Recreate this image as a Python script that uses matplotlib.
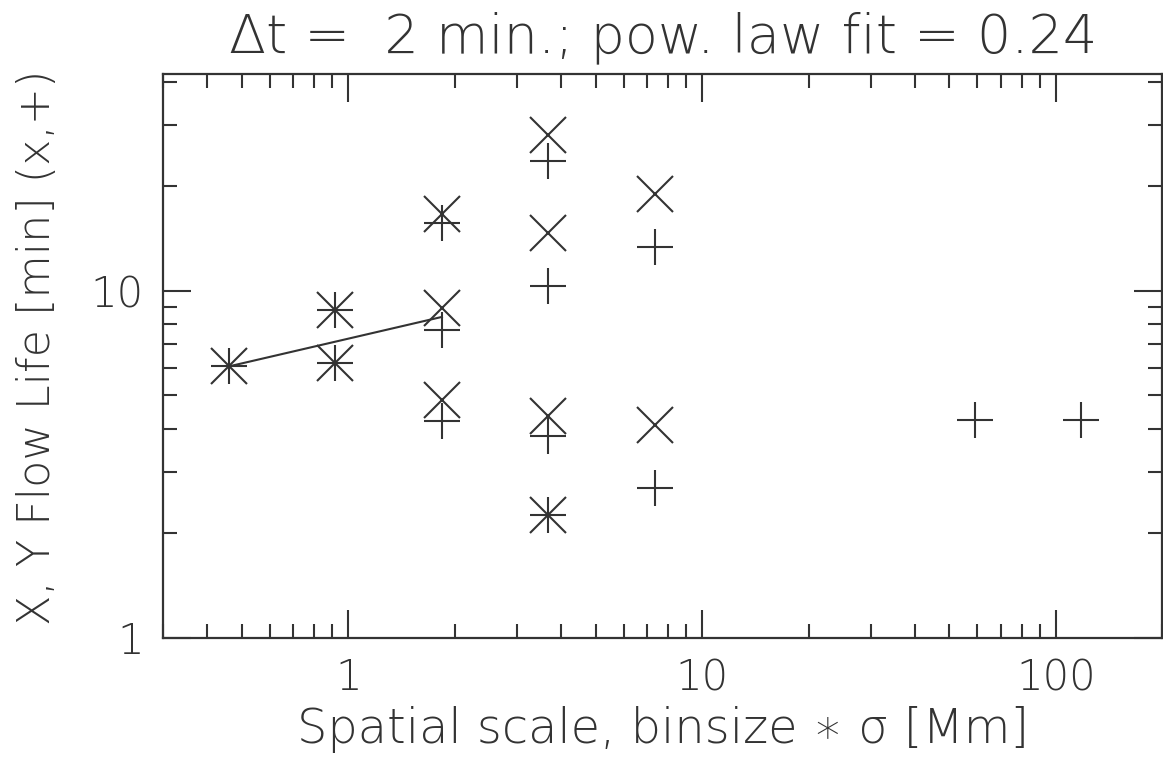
import matplotlib.pyplot as plt
from matplotlib.ticker import LogLocator, FixedLocator, NullFormatter

# spatial scale (binsize * sigma) [Mm] and flow lifetimes [min]
x_life_scale = [0.46, 0.92, 0.92, 1.84, 1.84, 1.84, 3.68, 3.68, 3.68, 3.68, 7.36, 7.36]
x_life = [6.05, 8.8, 6.2, 16.6, 8.9, 4.85, 28.0, 14.7, 4.35, 2.25, 19.0, 4.1]

y_life_scale = [0.46, 0.92, 0.92, 1.84, 1.84, 1.84, 3.68, 3.68, 3.68, 3.68, 7.36, 7.36, 59.0, 118.0]
y_life = [6.05, 8.8, 6.2, 15.7, 7.7, 4.2, 23.6, 10.3, 3.8, 2.25, 13.4, 2.7, 4.25, 4.25]

# power law fit, end points
fit_scale = [0.46, 1.84]
fit_life = [6.05, 8.4]

title = "\u0394t =  2 min.; pow. law fit = 0.24"
xlabel = "Spatial scale, binsize \u2217 \u03c3 [Mm]"
ylabel = "X, Y Flow Life [min] (x,+)"

ink = "#333333"
plt.rcParams['font.family'] = ['DejaVu Sans']
plt.rcParams['text.color'] = ink

fig = plt.figure(figsize=(11.63, 7.71), dpi=100)
ax = fig.add_axes([0.1404, 0.1729, 0.8590, 0.7307])

ax.plot(x_life_scale, x_life, linestyle='none', marker='x', ms=26, mew=1.5, color=ink)
ax.plot(y_life_scale, y_life, linestyle='none', marker='+', ms=26, mew=1.5, color=ink)
ax.plot(fit_scale, fit_life, color=ink, lw=1.5)

ax.set_xscale('log')
ax.set_yscale('log')
ax.set_xlim(0.3, 200)
ax.set_ylim(1, 42)

ax.xaxis.set_major_locator(FixedLocator([1, 10, 100]))
ax.set_xticklabels(['1', '10', '100'])
ax.xaxis.set_minor_locator(LogLocator(base=10, subs=range(2, 10)))
ax.xaxis.set_minor_formatter(NullFormatter())
ax.yaxis.set_major_locator(FixedLocator([1, 10]))
ax.set_yticklabels(['1', '10'])
ax.yaxis.set_minor_locator(LogLocator(base=10, subs=range(2, 10)))
ax.yaxis.set_minor_formatter(NullFormatter())

ax.tick_params(which='both', direction='in', top=True, right=True, color=ink,
               labelcolor=ink, labelsize=30, width=1.5, pad=14)
ax.tick_params(which='major', length=20)
ax.tick_params(which='minor', length=10)
for s in ax.spines.values():
    s.set_color(ink)
    s.set_linewidth(1.6)

for lab in ax.get_xticklabels() + ax.get_yticklabels():
    lab.set_fontweight('light')

ax.set_title(title, fontsize=39, color=ink, pad=16, fontweight='light')
ax.set_xlabel(xlabel, fontsize=34.5, color=ink, labelpad=6, fontweight='light')
ax.set_ylabel(ylabel, fontsize=32, color=ink, fontweight='light')
ax.yaxis.set_label_coords(-0.104, 0.515)

fig.savefig("out.png", dpi=100)
